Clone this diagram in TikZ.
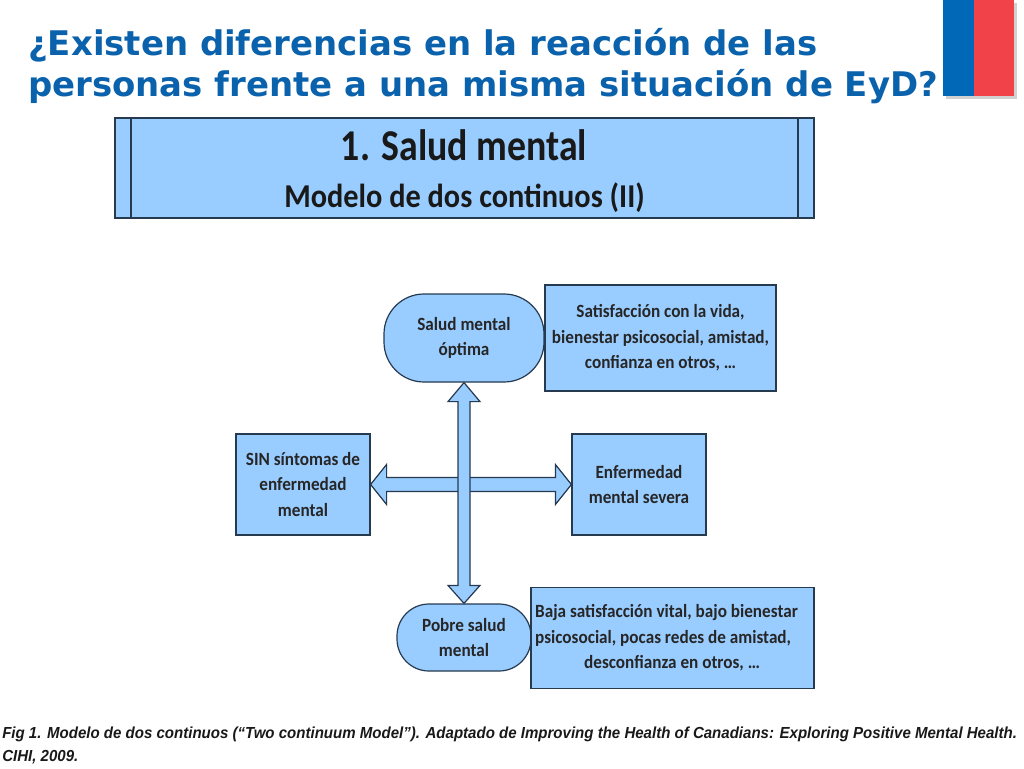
\documentclass[tikz,border=0pt]{standalone}
\usepackage{fontspec}
\usetikzlibrary{calc}
\setmainfont{Carlito}
\newfontfamily\condfont[FakeStretch=0.92]{Carlito}
\newfontfamily\bannerfont[FakeStretch=0.86]{Carlito}
\newfontfamily\subbannerfont[FakeStretch=0.91]{Carlito}
\newfontfamily\titlefont{DejaVu Sans}
\newfontfamily\capfont[FakeStretch=0.94]{Liberation Sans}
\definecolor{boxblue}{HTML}{99CCFF}
\definecolor{edge}{HTML}{263A50}
\definecolor{titleblue}{HTML}{0B62AC}
\definecolor{flagblue}{HTML}{0068B6}
\definecolor{flagred}{HTML}{F04248}
\tikzset{
  px/.style={x=0.75pt,y=-0.75pt},
  box/.style={draw=edge,line width=0.9pt,fill=boxblue,inner sep=0pt,align=center,font=\condfont\bfseries\fontsize{14}{19}\selectfont,text=black!85},
  fatarrow/.style={draw=edge,line width=0.9pt,fill=boxblue,line join=miter},
  titletext/.style={anchor=west,inner sep=0pt,font=\titlefont\bfseries\fontsize{25.45}{31}\selectfont,text=titleblue},
  captext/.style={anchor=west,inner sep=0pt,font=\capfont\bfseries\itshape\fontsize{12}{14}\selectfont,text=black!90},
}
\begin{document}
\begin{tikzpicture}[px]
\useasboundingbox (0,0) rectangle (1024,768);
\fill[white] (0,0) rectangle (1024,768);
% flag
\fill[black!18] (946,3) rectangle (1017,99);
\fill[flagblue] (943,0) rectangle (974,96);
\fill[flagred] (974,0) rectangle (1014,96);
% title
\node[titletext] (t1) at (28,45) {¿Existen diferencias en la reacción de las};
\node[titletext] (t2) at (28,87) {personas frente a una misma situación de EyD?};
% banner
\node[box,minimum width=524.25pt,minimum height=75pt] (banner) at (464.5,168) {};
\draw[edge,line width=0.9pt] (131,118) -- (131,218) (798,118) -- (798,218);
\node[anchor=base,inner sep=0pt,font=\bannerfont\bfseries\fontsize{33}{36}\selectfont,text=black!90] (b1) at (464,160) {1. Salud mental};
\node[anchor=base,inner sep=0pt,font=\subbannerfont\bfseries\fontsize{25}{28}\selectfont,text=black!90] (b2) at (464.5,207) {Modelo de dos continuos (II)};
% nodes
\node[box,rounded corners=30pt,minimum width=120pt,minimum height=66pt] (top) at (464,338) {\raisebox{-1pt}{\begin{tabular}{@{}c@{}}Salud mental\\óptima\end{tabular}}};
\node[box,minimum width=173.25pt,minimum height=79.5pt] (topr) at (660.5,338) {Satisfacción con la vida,\\bienestar psicosocial, amistad,\\confianza en otros, …};
\node[box,minimum width=100.5pt,minimum height=75.75pt] (left) at (303,484.5) {SIN síntomas de\\enfermedad\\mental};
\node[box,minimum width=100.5pt,minimum height=75.75pt] (right) at (639,484.5) {Enfermedad\\mental severa};
\node[box,rounded corners=24pt,minimum width=100.5pt,minimum height=50.25pt] (bot) at (464,637.5) {Pobre salud\\mental};
\node[box,minimum width=212.25pt,minimum height=75.75pt] (botr) at (672.5,638) {\makebox[206pt][l]{\begin{tabular}{@{}l@{}}Baja satisfacción vital, bajo bienestar\\psicosocial, pocas redes de amistad,\\\hspace*{36.75pt}desconfianza en otros, …\end{tabular}}};
% arrows
\draw[fatarrow] (left.east) -- ++(16,-20) -- ++(0,13) -- ($(right.west)+(-16,-7)$) -- ++(0,-13) -- (right.west) -- ++(-16,20) -- ++(0,-13) -- ($(left.east)+(16,7)$) -- ++(0,13) -- cycle;
\draw[fatarrow] (top.south) -- ++(16,19) -- ++(-10,0) -- ($(bot.north)+(6,-18)$) -- ++(10,0) -- (bot.north) -- ++(-16,-18) -- ++(10,0) -- ($(top.south)+(-6,19)$) -- ++(-10,0) -- cycle;
% caption
\node[captext] (c1) at (2,734) {Fig 1. Modelo de dos continuos (“Two continuum Model”). Adaptado de Improving the Health of Canadians: Exploring Positive Mental Health.};
\node[captext] (c2) at (2,757) {CIHI, 2009.};
\end{tikzpicture}
\end{document}
